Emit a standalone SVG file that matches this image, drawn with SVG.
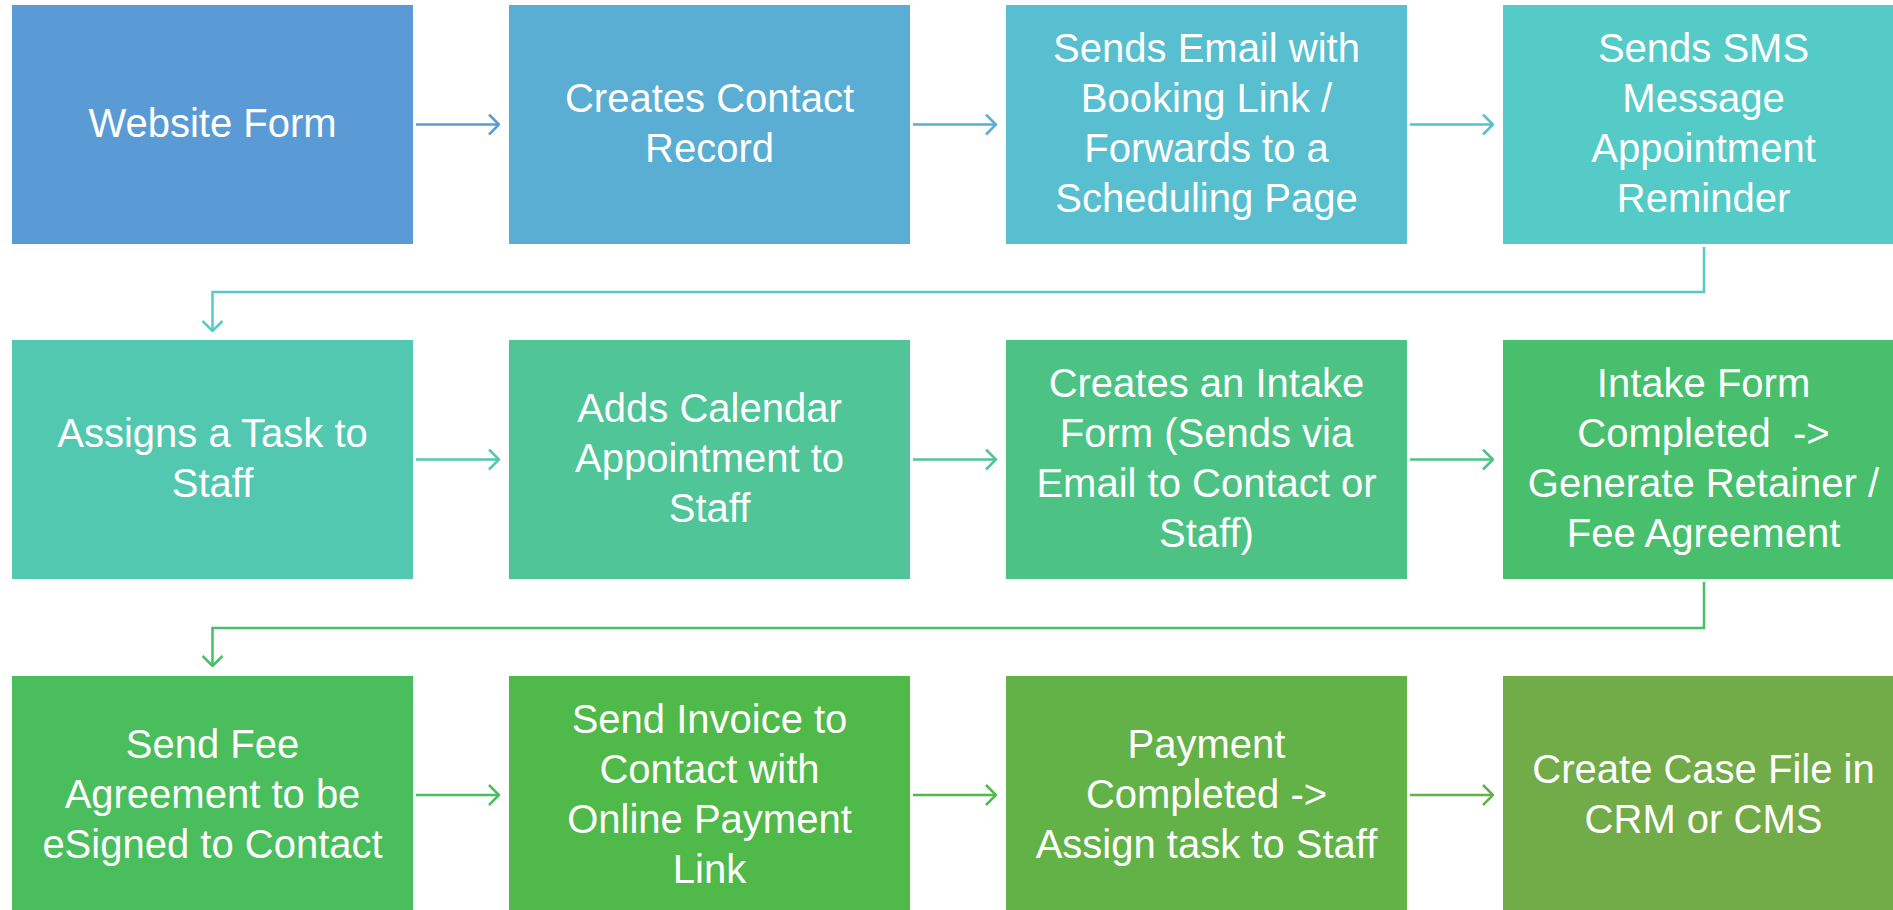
<svg xmlns="http://www.w3.org/2000/svg" width="1893" height="910" viewBox="0 0 1893 910">
<style>
text{font-family:"Liberation Sans",Arial,sans-serif;font-size:40px;fill:#fff;text-anchor:middle;white-space:pre}
.c{fill:none;stroke-width:2.5}
</style>
<defs>
<marker id="a1" viewBox="0 0 12 22" refX="11" refY="11" markerWidth="12" markerHeight="22" markerUnits="userSpaceOnUse" orient="auto"><path d="M1,1 L11,11 L1,21" fill="none" stroke="#5B9BD5" stroke-width="2.5"/></marker>
<marker id="a2" viewBox="0 0 12 22" refX="11" refY="11" markerWidth="12" markerHeight="22" markerUnits="userSpaceOnUse" orient="auto"><path d="M1,1 L11,11 L1,21" fill="none" stroke="#5AADD3" stroke-width="2.5"/></marker>
<marker id="a3" viewBox="0 0 12 22" refX="11" refY="11" markerWidth="12" markerHeight="22" markerUnits="userSpaceOnUse" orient="auto"><path d="M1,1 L11,11 L1,21" fill="none" stroke="#57BFCF" stroke-width="2.5"/></marker>
<marker id="a4" viewBox="0 0 12 22" refX="11" refY="11" markerWidth="12" markerHeight="22" markerUnits="userSpaceOnUse" orient="auto"><path d="M1,1 L11,11 L1,21" fill="none" stroke="#55CBC7" stroke-width="2.5"/></marker>
<marker id="a5" viewBox="0 0 12 22" refX="11" refY="11" markerWidth="12" markerHeight="22" markerUnits="userSpaceOnUse" orient="auto"><path d="M1,1 L11,11 L1,21" fill="none" stroke="#52C8B0" stroke-width="2.5"/></marker>
<marker id="a6" viewBox="0 0 12 22" refX="11" refY="11" markerWidth="12" markerHeight="22" markerUnits="userSpaceOnUse" orient="auto"><path d="M1,1 L11,11 L1,21" fill="none" stroke="#4FC598" stroke-width="2.5"/></marker>
<marker id="a7" viewBox="0 0 12 22" refX="11" refY="11" markerWidth="12" markerHeight="22" markerUnits="userSpaceOnUse" orient="auto"><path d="M1,1 L11,11 L1,21" fill="none" stroke="#4CC384" stroke-width="2.5"/></marker>
<marker id="a8" viewBox="0 0 12 22" refX="11" refY="11" markerWidth="12" markerHeight="22" markerUnits="userSpaceOnUse" orient="auto"><path d="M1,1 L11,11 L1,21" fill="none" stroke="#48BF67" stroke-width="2.5"/></marker>
<marker id="a9" viewBox="0 0 12 22" refX="11" refY="11" markerWidth="12" markerHeight="22" markerUnits="userSpaceOnUse" orient="auto"><path d="M1,1 L11,11 L1,21" fill="none" stroke="#4ABE5D" stroke-width="2.5"/></marker>
<marker id="a10" viewBox="0 0 12 22" refX="11" refY="11" markerWidth="12" markerHeight="22" markerUnits="userSpaceOnUse" orient="auto"><path d="M1,1 L11,11 L1,21" fill="none" stroke="#4FB949" stroke-width="2.5"/></marker>
<marker id="a11" viewBox="0 0 12 22" refX="11" refY="11" markerWidth="12" markerHeight="22" markerUnits="userSpaceOnUse" orient="auto"><path d="M1,1 L11,11 L1,21" fill="none" stroke="#62B248" stroke-width="2.5"/></marker>
</defs>
<rect width="1893" height="910" fill="#fff"/>

<g id="connectors">
<line class="c" x1="416" y1="124.5" x2="499" y2="124.5" stroke="#5B9BD5" marker-end="url(#a1)"/>
<line class="c" x1="913" y1="124.5" x2="996" y2="124.5" stroke="#5AADD3" marker-end="url(#a2)"/>
<line class="c" x1="1410" y1="124.5" x2="1493" y2="124.5" stroke="#57BFCF" marker-end="url(#a3)"/>
<polyline class="c" points="1704,247 1704,292 212.5,292 212.5,331" stroke="#55CBC7" marker-end="url(#a4)"/>
<line class="c" x1="416" y1="459.5" x2="499" y2="459.5" stroke="#52C8B0" marker-end="url(#a5)"/>
<line class="c" x1="913" y1="459.5" x2="996" y2="459.5" stroke="#4FC598" marker-end="url(#a6)"/>
<line class="c" x1="1410" y1="459.5" x2="1493" y2="459.5" stroke="#4CC384" marker-end="url(#a7)"/>
<polyline class="c" points="1704,582 1704,628 212.5,628 212.5,666" stroke="#48BF67" marker-end="url(#a8)"/>
<line class="c" x1="416" y1="795" x2="499" y2="795" stroke="#4ABE5D" marker-end="url(#a9)"/>
<line class="c" x1="913" y1="795" x2="996" y2="795" stroke="#4FB949" marker-end="url(#a10)"/>
<line class="c" x1="1410" y1="795" x2="1493" y2="795" stroke="#62B248" marker-end="url(#a11)"/>
</g>

<g id="n1"><rect x="12" y="5" width="401" height="239" fill="#5B9BD5"/><text x="212.5" y="137">Website Form</text></g>
<g id="n2"><rect x="509" y="5" width="401" height="239" fill="#5AADD3"/><text x="709.5" y="112">Creates Contact</text><text x="709.5" y="162">Record</text></g>
<g id="n3"><rect x="1006" y="5" width="401" height="239" fill="#57BFCF"/><text x="1206.5" y="62">Sends Email with</text><text x="1206.5" y="112">Booking Link /</text><text x="1206.5" y="162">Forwards to a</text><text x="1206.5" y="212">Scheduling Page</text></g>
<g id="n4"><rect x="1503" y="5" width="401" height="239" fill="#55CBC7"/><text x="1703.5" y="62">Sends SMS</text><text x="1703.5" y="112">Message</text><text x="1703.5" y="162">Appointment</text><text x="1703.5" y="212">Reminder</text></g>

<g id="n5"><rect x="12" y="340" width="401" height="239" fill="#52C8B0"/><text x="212.5" y="447">Assigns a Task to</text><text x="212.5" y="497">Staff</text></g>
<g id="n6"><rect x="509" y="340" width="401" height="239" fill="#4FC598"/><text x="709.5" y="422">Adds Calendar</text><text x="709.5" y="472">Appointment to</text><text x="709.5" y="522">Staff</text></g>
<g id="n7"><rect x="1006" y="340" width="401" height="239" fill="#4CC384"/><text x="1206.5" y="397">Creates an Intake</text><text x="1206.5" y="447">Form (Sends via</text><text x="1206.5" y="497">Email to Contact or</text><text x="1206.5" y="547">Staff)</text></g>
<g id="n8"><rect x="1503" y="340" width="401" height="239" fill="#48BF6C"/><text x="1703.5" y="397">Intake Form</text><text x="1703.5" y="447">Completed  -&gt;</text><text x="1703.5" y="497">Generate Retainer /</text><text x="1703.5" y="547">Fee Agreement</text></g>

<g id="n9"><rect x="12" y="676" width="401" height="239" fill="#4ABE5D"/><text x="212.5" y="758">Send Fee</text><text x="212.5" y="808">Agreement to be</text><text x="212.5" y="858">eSigned to Contact</text></g>
<g id="n10"><rect x="509" y="676" width="401" height="239" fill="#4FB949"/><text x="709.5" y="733">Send Invoice to</text><text x="709.5" y="783">Contact with</text><text x="709.5" y="833">Online Payment</text><text x="709.5" y="883">Link</text></g>
<g id="n11"><rect x="1006" y="676" width="401" height="239" fill="#62B248"/><text x="1206.5" y="758">Payment</text><text x="1206.5" y="808">Completed -&gt;</text><text x="1206.5" y="858">Assign task to Staff</text></g>
<g id="n12"><rect x="1503" y="676" width="401" height="239" fill="#72AC48"/><text x="1703.5" y="783">Create Case File in</text><text x="1703.5" y="833">CRM or CMS</text></g>
</svg>
